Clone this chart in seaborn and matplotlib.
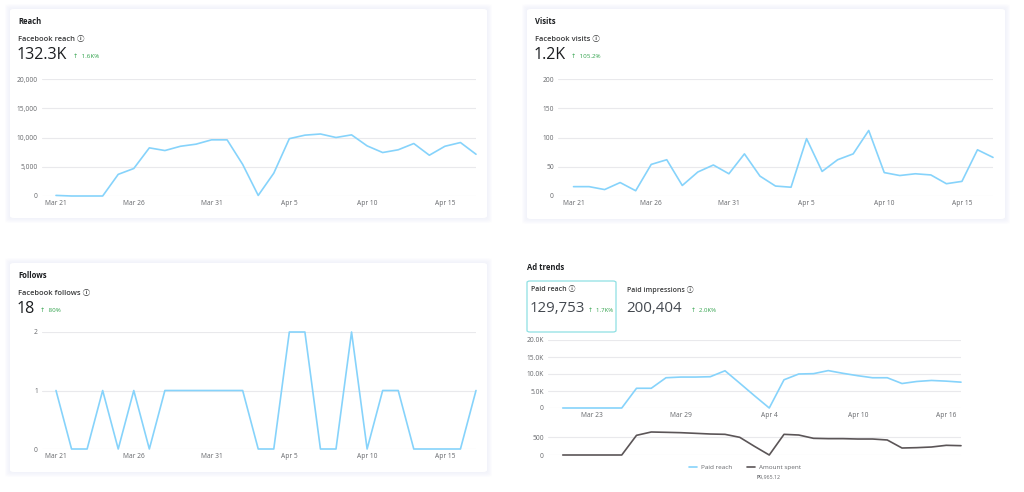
import numpy as np
import pandas as pd
import matplotlib
matplotlib.use("Agg")
import matplotlib.pyplot as plt
import matplotlib.dates as mdates
from matplotlib.patches import FancyBboxPatch
from matplotlib.ticker import FuncFormatter, FixedLocator
import seaborn as sns

# ---------------- data ----------------
start_date = "2024-03-21"
n_days = 28

reach = [100, 0, 0, 0, 3700, 4700, 8230, 7770, 8500, 8860, 9600, 9600, 5400, 100,
         3900, 9800, 10400, 10600, 10000, 10450, 8570, 7430, 7900, 8970, 6970, 8500,
         9140, 7140]
visits = [16, 16, 11, 23, 9, 54, 62, 18, 41, 53, 38, 72, 34, 17, 15, 98, 42, 62, 72,
          112, 40, 35, 38, 36, 21, 25, 79, 66]
follows = [1, 0, 0, 1, 0, 1, 0, 1, 1, 1, 1, 1, 1, 0, 0, 2, 2, 0, 0, 2, 0, 1, 1, 0, 0,
           0, 0, 1]
paid_reach = [0, 0, 0, 0, 0, 5800, 5800, 8900, 9100, 9100, 9200, 10950, 7300, 3600,
              0, 8300, 10000, 10100, 11000, 10200, 9500, 8900, 8900, 7200, 7800, 8100,
              7900, 7600]
amount_spent = [0, 0, 0, 0, 0, 546, 639, 630, 620, 602, 583, 574, 491, 240, 0, 574,
                555, 463, 454, 454, 444, 444, 417, 194, 204, 222, 269, 259]

reach_ticks = [0, 5000, 10000, 15000, 20000]
visits_ticks = [0, 50, 100, 150, 200]
follows_ticks = [0, 1, 2]
paid_ticks = [0, 5000, 10000, 15000, 20000]
spent_ticks = [0, 500]

dates = pd.date_range(start_date, periods=n_days, freq="D")

# ---------------- style ----------------
sns.set_theme(style="white")
FAMS = ["Open Sans", "DejaVu Sans", "Noto Sans CJK JP"]
plt.rcParams["font.family"] = FAMS

W, H = 1024, 492
fig = plt.figure(figsize=(W / 100, H / 100), dpi=100)
fig.patch.set_facecolor("white")

LINE_BLUE = "#86d3fb"
LINE_GRAY = "#5b5557"
GRID = "#e9e9ec"
TICK = "#65676b"
DARK = "#1c1e21"
GREEN = "#31a24c"
INFO = " \u24d8"


def card(l, t, r, b):
    for k, a in [(5, 0.18), (4, 0.22), (3, 0.26), (2, 0.3), (1, 0.35)]:
        p = FancyBboxPatch(((l - k) / W, 1 - (b + k) / H), (r - l + 2 * k) / W,
                           (b - t + 2 * k) / H, boxstyle="round,pad=0,rounding_size=0.005",
                           transform=fig.transFigure, facecolor="#f1f2fa", edgecolor="none",
                           alpha=a, zorder=-3)
        fig.add_artist(p)
    p = FancyBboxPatch((l / W, 1 - b / H), (r - l) / W, (b - t) / H,
                       boxstyle="round,pad=0,rounding_size=0.004",
                       transform=fig.transFigure, facecolor="white", edgecolor="none",
                       zorder=-2)
    fig.add_artist(p)


def ax_px(l, t, r, b):
    ax = fig.add_axes([l / W, 1 - b / H, (r - l) / W, (b - t) / H])
    ax.set_facecolor("none")
    for s in ax.spines.values():
        s.set_visible(False)
    return ax


def txt(x, y, s, **kw):
    kw.setdefault("va", "center")
    kw.setdefault("ha", "left")
    return fig.text(x / W, 1 - y / H, s, **kw)


def style_axis(ax, yticks, ymax, fmt, xticks, pad_days=0.9, show_x=True):
    ax.set_ylim(0, ymax)
    ax.set_xlim(dates[0] - pd.Timedelta(days=pad_days), dates[-1])
    ax.yaxis.set_major_locator(FixedLocator(yticks))
    ax.yaxis.set_major_formatter(FuncFormatter(fmt))
    ax.grid(axis="y", color=GRID, linewidth=0.8)
    ax.grid(axis="x", visible=False)
    ax.set_xlabel("")
    ax.set_ylabel("")
    if show_x:
        ax.xaxis.set_major_locator(FixedLocator(mdates.date2num(xticks)))
        ax.xaxis.set_major_formatter(mdates.DateFormatter("%b %-d"))
    else:
        ax.set_xticks([])
    ax.tick_params(axis="both", length=0, labelsize=4.8, labelcolor=TICK, pad=3)


# ---------------- cards ----------------
card(10, 9, 487, 218)
card(527, 9, 1005, 219)
card(10, 263, 487, 472)

# ---------------- Reach ----------------
ax1 = ax_px(42, 79, 476, 196)
sns.lineplot(x=dates, y=reach, ax=ax1, color=LINE_BLUE, linewidth=1.2, clip_on=False)
style_axis(ax1, reach_ticks, 20000, lambda v, p: f"{int(v):,}", dates[::5])
txt(18, 22, "Reach", fontsize=5.5, fontweight="bold", color=DARK)
txt(18, 39, "Facebook reach" + INFO, fontsize=5.4, fontweight="semibold", color="#3a3b3c")
txt(17, 55, "132.3K", fontsize=11.5, color=DARK)
txt(73, 56, "\u2191  1.6K%", fontsize=4.5, color=GREEN)

# ---------------- Visits ----------------
ax2 = ax_px(558, 79, 993, 196)
sns.lineplot(x=dates, y=visits, ax=ax2, color=LINE_BLUE, linewidth=1.2, clip_on=False)
style_axis(ax2, visits_ticks, 200, lambda v, p: f"{int(v)}", dates[::5], pad_days=1.0)
txt(535, 22, "Visits", fontsize=5.5, fontweight="bold", color=DARK)
txt(535, 39, "Facebook visits" + INFO, fontsize=5.4, fontweight="semibold", color="#3a3b3c")
txt(534, 55, "1.2K", fontsize=11.5, color=DARK)
txt(571, 56, "\u2191  105.2%", fontsize=4.5, color=GREEN)

# ---------------- Follows ----------------
ax3 = ax_px(42, 332, 476, 449)
sns.lineplot(x=dates, y=follows, ax=ax3, color=LINE_BLUE, linewidth=1.2, clip_on=False)
style_axis(ax3, follows_ticks, 2, lambda v, p: f"{int(v)}", dates[::5])
txt(18, 276, "Follows", fontsize=5.5, fontweight="bold", color=DARK)
txt(18, 293, "Facebook follows" + INFO, fontsize=5.4, fontweight="semibold", color="#3a3b3c")
txt(17, 309, "18", fontsize=11.5, color=DARK)
txt(40, 310, "\u2191  80%", fontsize=4.5, color=GREEN)

# ---------------- Ad trends ----------------
ax4 = ax_px(548, 340, 961, 408)
sns.lineplot(x=dates, y=paid_reach, ax=ax4, color=LINE_BLUE, linewidth=1.2,
             clip_on=False, label="Paid reach", legend=False)
style_axis(ax4, paid_ticks, 20000,
           lambda v, p: "0" if v == 0 else f"{v / 1000:.1f}K", dates[2::6], pad_days=1.0)

ax5 = ax_px(548, 429.8, 961, 455)
sns.lineplot(x=dates, y=amount_spent, ax=ax5, color=LINE_GRAY, linewidth=1.2,
             clip_on=False, label="Amount spent", legend=False)
style_axis(ax5, spent_ticks, 700, lambda v, p: f"{int(v)}", [], pad_days=1.0, show_x=False)

h1, l1 = ax4.get_legend_handles_labels()
h2, l2 = ax5.get_legend_handles_labels()
fig.legend(h1 + h2, l1 + l2, loc="center", bbox_to_anchor=(745 / W, 1 - 467 / H),
           ncol=2, frameon=False, fontsize=4.6, handlelength=1.3, handletextpad=0.6,
           columnspacing=2.2, labelcolor=TICK)
txt(757, 477, "\u20b19,965.12", fontsize=3.8, color=TICK)

txt(527, 268, "Ad trends", fontsize=5.5, fontweight="bold", color=DARK)
box = FancyBboxPatch((527 / W, 1 - 332 / H), (616 - 527) / W, (332 - 281) / H,
                     boxstyle="round,pad=0,rounding_size=0.003",
                     transform=fig.transFigure, facecolor="white",
                     edgecolor="#8fe0e3", linewidth=0.9, zorder=1)
fig.add_artist(box)
txt(531, 290, "Paid reach" + INFO, fontsize=5.0, fontweight="semibold", color="#3a3b3c")
txt(530, 309, "129,753", fontsize=10.8, color="#444950")
txt(588, 311, "\u2191  1.7K%", fontsize=4.3, color=GREEN)
txt(627, 290, "Paid impressions" + INFO, fontsize=5.0, fontweight="semibold", color="#3a3b3c")
txt(626, 309, "200,404", fontsize=10.8, color="#444950")
txt(691, 311, "\u2191  2.0K%", fontsize=4.3, color=GREEN)

fig.savefig("out.png", dpi=100, facecolor="white")
